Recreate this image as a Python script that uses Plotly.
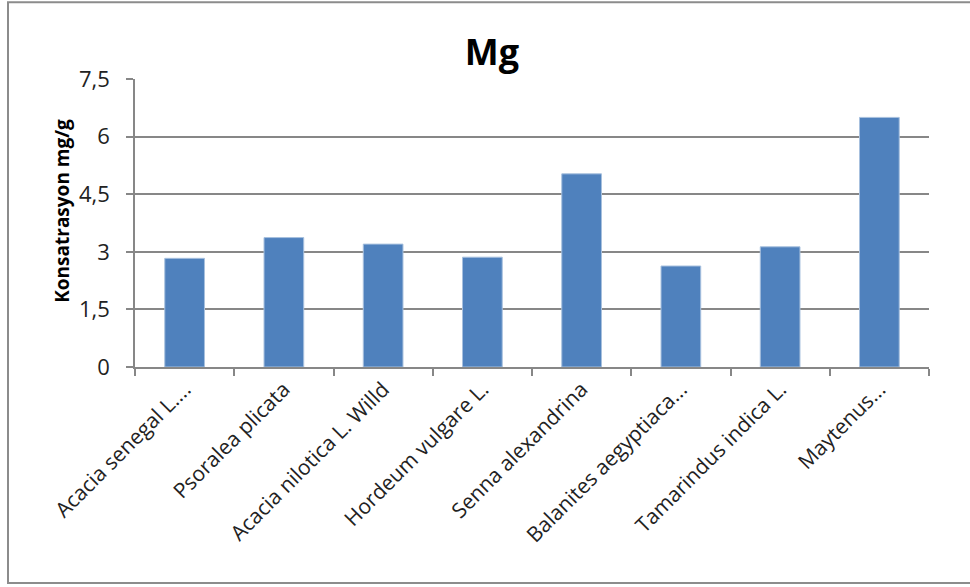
import plotly.graph_objects as go

# Magnesium concentration per plant species
species = [
    "Acacia senegal L....",
    "Psoralea plicata",
    "Acacia nilotica L. Willd",
    "Hordeum vulgare L.",
    "Senna alexandrina",
    "Balanites aegyptiaca...",
    "Tamarindus indica L.",
    "Maytenus...",
]
mg_values = [2.83, 3.37, 3.20, 2.86, 5.03, 2.63, 3.13, 6.50]

y_tick_vals = [0, 1.5, 3, 4.5, 6, 7.5]
y_tick_text = ["0", "1,5", "3", "4,5", "6", "7,5"]

W, H = 970, 587
ML, MR, MT, MB = 135, 41, 79, 219.5
pw, ph = W - ML - MR, H - MT - MB

FONT = "Open Sans, Liberation Sans, sans-serif"
GRID = "#878787"

fig = go.Figure(
    go.Bar(
        x=species,
        y=mg_values,
        marker=dict(color="#4F81BD", line=dict(color="#A7C0DE", width=1)),
        width=0.4,
    )
)

fig.update_layout(
    width=W,
    height=H,
    margin=dict(l=ML, r=MR, t=MT, b=MB),
    paper_bgcolor="white",
    plot_bgcolor="white",
    showlegend=False,
    title=dict(
        text="<b>Mg</b>",
        x=(492 - ML) / pw,
        xref="paper",
        xanchor="center",
        y=1 - 52 / H,
        yanchor="middle",
        font=dict(family=FONT, size=36, color="black"),
    ),
    font=dict(family=FONT, color="black"),
)

fig.update_yaxes(
    range=[0, 7.5],
    tickvals=y_tick_vals,
    ticktext=y_tick_text,
    showgrid=True,
    gridcolor=GRID,
    gridwidth=1.5,
    zeroline=False,
    showline=True,
    linecolor=GRID,
    linewidth=1.5,
    ticks="outside",
    ticklen=7,
    tickcolor=GRID,
    tickwidth=1.5,
    ticklabelstandoff=12,
    tickfont=dict(size=22, color="#222222"),
)

# Vertical axis title
fig.add_annotation(
    text="<b>Konsatrasyon mg/g</b>",
    xref="paper",
    yref="paper",
    x=(62 - ML) / pw,
    y=1 - (211 - MT) / ph,
    xanchor="center",
    yanchor="middle",
    textangle=-90,
    showarrow=False,
    font=dict(family=FONT, size=19, color="black"),
)

fig.update_xaxes(
    showline=True,
    linecolor=GRID,
    linewidth=1.5,
    ticks="outside",
    tickson="boundaries",
    ticklen=7,
    tickcolor=GRID,
    tickwidth=1.5,
    tickangle=-45,
    tickfont=dict(size=21, color="#222222"),
    showgrid=False,
)

# Light grey frame around the whole chart (runs off the right edge)
fig.add_shape(
    type="rect",
    xref="paper",
    yref="paper",
    x0=(8 - ML) / pw,
    x1=(975 - ML) / pw,
    y0=1 - (584 - MT) / ph,
    y1=1 - (2 - MT) / ph,
    line=dict(color="#8C8C8C", width=2),
    fillcolor="rgba(0,0,0,0)",
    layer="below",
)

fig.write_html("out.html")
